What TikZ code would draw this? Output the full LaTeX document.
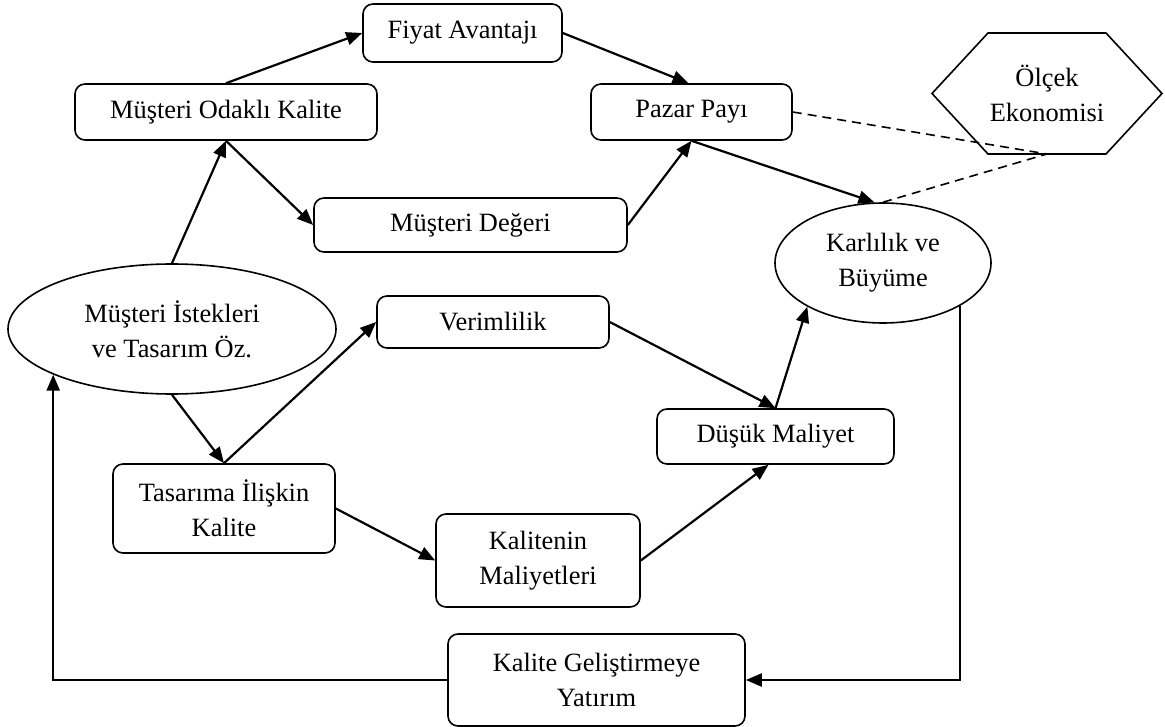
\documentclass[tikz,border=0pt]{standalone}
\usepackage{fontspec}
\setmainfont{Liberation Serif}
\usetikzlibrary{arrows.meta,shapes.geometric,calc}
\begin{document}
\begin{tikzpicture}[x=1pt,y=1pt,
  font=\fontsize{26.4}{35}\selectfont,
  box/.style={draw,rounded corners=10pt,line width=1.6pt,align=center,inner sep=0pt},
  oval/.style={draw,ellipse,line width=1.6pt,align=center,inner sep=0pt},
  conn/.style={line width=2.2pt,-{Triangle[length=16pt,width=13pt]}},
  dashline/.style={line width=1.6pt,dash pattern=on 9pt off 6pt}
]
\useasboundingbox (0,0) rectangle (1165,-727);
\fill[white] (0,0) rectangle (1165,-727);

\node[box,minimum width=199pt,minimum height=58pt] (fiyat) at (462.5,-33) {Fiyat Avantajı};
\node[box,minimum width=302pt,minimum height=56pt] (mok) at (226,-112) {Müşteri Odaklı Kalite};
\node[box,minimum width=201pt,minimum height=56pt] (pazar) at (691.5,-112) {Pazar Payı};
\node[box,minimum width=313pt,minimum height=54pt] (md) at (470.5,-225) {Müşteri Değeri};
\node[oval,minimum width=328pt,minimum height=130pt] (mi) at (172,-329) {Müşteri İstekleri\\ve Tasarım Öz.};
\node[oval,minimum width=216pt,minimum height=120pt] (karl) at (883,-263) {Karlılık ve\\Büyüme};
\node[box,minimum width=232pt,minimum height=52pt] (ver) at (493,-322) {Verimlilik};
\node[box,minimum width=237pt,minimum height=55pt] (dusuk) at (775.5,-436.5) {Düşük Maliyet};
\node[box,minimum width=222pt,minimum height=89pt] (tas) at (224,-508.5) {Tasarıma İlişkin\\Kalite};
\node[box,minimum width=204pt,minimum height=93pt] (kalm) at (538,-560.5) {Kalitenin\\Maliyetleri};
\node[box,minimum width=297pt,minimum height=92pt] (kg) at (596.5,-680) {Kalite Geliştirmeye\\Yatırım};
\node[align=center,inner sep=0pt] (olcek) at (1047,-93.5) {Ölçek\\Ekonomisi};
\draw[line width=1.6pt] ($(olcek.center)+(-115,0)$) -- ++(56,60.5) -- ++(118,0) -- ++(56,-60.5) -- ++(-56,-60.5) -- ++(-118,0) -- cycle;
\coordinate (hb) at ($(olcek.center)+(0,-60.5)$);

\draw[conn] (mok.north) -- (fiyat.west);
\draw[conn] (fiyat.east) -- ([xshift=-3pt]pazar.north);
\draw[conn] (mok.south) -- (md.west);
\draw[conn] (md.east) -- (pazar.south);
\draw[conn] (pazar.south) -- (karl.98);
\draw[dashline] (pazar.east) -- (hb);
\draw[dashline] (karl.north) -- (hb);
\draw[conn] (mi.north) -- (mok.south);
\draw[conn] (mi.south) -- (tas.north);
\draw[conn] (tas.north) -- (ver.west);
\draw[conn] (tas.east) -- (kalm.west);
\draw[conn] (ver.east) -- (dusuk.north);
\draw[conn] (kalm.east) -- ([xshift=-7pt]dusuk.south);
\draw[conn] (dusuk.north) -- (karl.210);
\draw[conn] (karl.-29) |- (kg.east);
\draw[conn] (kg.west) -| (mi.201.8);
\end{tikzpicture}
\end{document}
